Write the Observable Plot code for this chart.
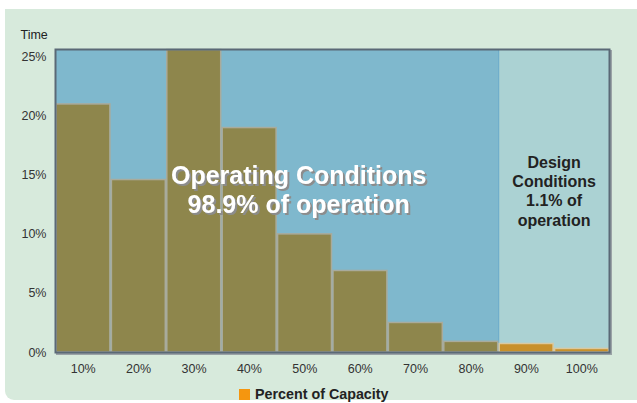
<!DOCTYPE html>
<html>
<head>
<meta charset="utf-8">
<script src="https://cdn.jsdelivr.net/npm/d3@7"></script>
<script src="https://cdn.jsdelivr.net/npm/@observablehq/plot@0.6"></script>
<style>
  html, body { margin: 0; padding: 0; background: #ffffff; }
  #wrap { position: relative; width: 637px; height: 403px; font-family: "Liberation Sans", Arial, sans-serif; }
  #panel { position: absolute; left: 5px; top: 9px; width: 632px; height: 391px; background: #d7eadc; border-bottom-left-radius: 9px; }
  #chart { position: absolute; left: 0; top: 0; }
  #legend { position: absolute; left: 239px; top: 386px; font-size: 14.3px; font-weight: bold; color: #222; display: flex; align-items: center; }
  #legend .sw { width: 11px; height: 11px; background: #f5960f; margin-right: 5px; }
</style>
</head>
<body>
<div id="wrap">
  <div id="panel"></div>
  <div id="chart"></div>
  <div id="legend"><span class="sw"></span><span>Percent of Capacity</span></div>
</div>
<script>
// Data
const capacities = [10, 20, 30, 40, 50, 60, 70, 80, 90, 100];
const timeShares = [21.0, 14.6, 25.6, 19.0, 10.0, 6.9, 2.5, 0.9, 0.72, 0.3];
const designFlags = [false, false, false, false, false, false, false, false, true, true];
const yTicks = [0, 5, 10, 15, 20, 25];
const xTickLabels = ["10%", "20%", "30%", "40%", "50%", "60%", "70%", "80%", "90%", "100%"];
const operatingText = ["Operating Conditions\n98.9% of operation"];
const designText = ["Design\nConditions\n1.1% of\noperation"];
const regions = [
  {x1: 5, x2: 85, kind: "operating"},
  {x1: 85, x2: 105, kind: "design"}
];

const data = capacities.map((c, i) => ({cap: c, val: timeShares[i], design: designFlags[i]}));

const chart = Plot.plot({
  width: 637,
  height: 403,
  marginTop: 49,
  marginBottom: 51,
  marginLeft: 55,
  marginRight: 28,
  style: {background: "transparent", fontFamily: "Liberation Sans, Arial, sans-serif", fontSize: "12px", color: "#333"},
  x: {domain: [5, 105], axis: null, label: null},
  y: {domain: [0, 25.65], axis: null, label: null},
  marks: [
    // shadow of frame
    Plot.frame({stroke: "#9aa3a6", strokeWidth: 2, dx: 1.5, dy: 1.5}),
    // region backgrounds
    Plot.rectY(regions, {x1: "x1", x2: "x2", y1: 0, y2: 25.65,
      fill: d => d.kind === "operating" ? "#7fb8cd" : "#abd2d3"}),
    Plot.ruleX([85], {stroke: "#62a5c9", strokeWidth: 1}),
    // bars
    Plot.rectY(data, {
      x1: d => d.cap - 5, x2: d => d.cap + 5, y: "val",
      fill: d => d.design ? "#c8902a" : "#8e864c",
      stroke: d => d.design ? "#d9c9a0" : "#a9ab9c",
      strokeWidth: 1.5,
      insetLeft: 1, insetRight: 0.5
    }),
    Plot.frame({stroke: "#5a6976", strokeWidth: 2}),
    // axes
    Plot.axisY(yTicks, {tickSize: 0, tickPadding: 9, tickFormat: d => d + "%", fill: "#333", fontSize: 12.5, label: null}),
    Plot.axisX(capacities, {tickSize: 0, tickPadding: 12, tickFormat: (d, i) => xTickLabels[i], fill: "#333", fontSize: 12.5, label: null}),
    Plot.text(["Time"], {frameAnchor: "top-left", dx: -35, dy: -19, fill: "#222", fontSize: 12.5, textAnchor: "start"}),
    // annotations
    Plot.text(operatingText, {x: 48.9, y: 13.85, fill: "#ffffff", fontSize: 25, fontWeight: "bold", lineHeight: 1.2}),
    Plot.text(designText, {x: 95, y: 13.7, fill: "#222", fontSize: 16, fontWeight: "bold", lineHeight: 1.2})
  ]
});

// drop shadow for the white annotation text
const svg = d3.select(chart.tagName.toLowerCase() === "svg" ? chart : chart.querySelector("svg"));
const defs = svg.insert("defs", ":first-child");
defs.append("filter").attr("id", "txtshadow").attr("x", "-10%").attr("y", "-10%").attr("width", "120%").attr("height", "130%")
  .append("feDropShadow").attr("dx", 2).attr("dy", 2).attr("stdDeviation", 0.4)
  .attr("flood-color", "#8c8c8c").attr("flood-opacity", 1);
svg.selectAll("g").filter(function() {
  return this.getAttribute("fill") === "#ffffff";
}).attr("filter", "url(#txtshadow)");

document.getElementById("chart").appendChild(chart);
</script>
</body>
</html>
